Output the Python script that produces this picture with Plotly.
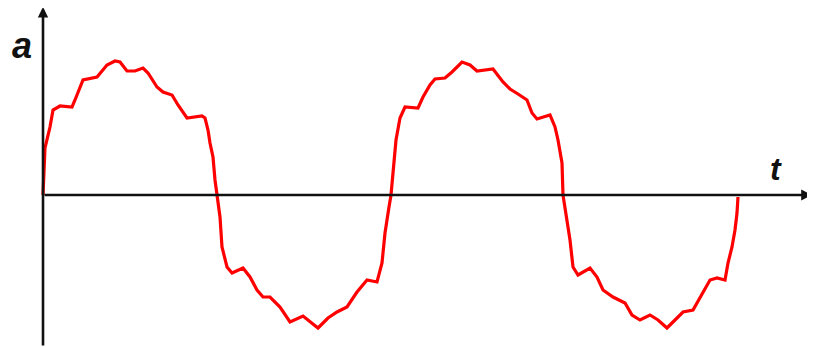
import plotly.graph_objects as go

# Curve values (t in px-like units from origin, a in px-like units above axis)
t_vals = [0, 2, 7, 10, 17, 29, 32, 40, 54, 64, 72, 77, 84, 92, 100, 105, 114, 120, 129, 135,
          144, 150, 159, 162, 165, 167, 170, 172, 174, 177, 179, 184, 189, 200, 207, 214, 220,
          227, 237, 247, 260, 275, 285, 294, 304, 314, 324, 334, 339, 342, 346, 348, 350, 353,
          357, 362, 375, 380, 387, 392, 402, 409, 419, 427, 434, 444, 450, 460, 467, 475, 484,
          489, 494, 507, 512, 515, 519, 520, 524, 527, 530, 535, 547, 554, 560, 570, 582, 589,
          597, 607, 615, 624, 630, 640, 650, 660, 667, 674, 682, 685, 689, 692, 694, 695]
a_vals = [0, 47, 68, 85, 89, 88, 95, 115, 118, 130, 134, 133, 124, 124, 127, 122, 108, 103,
          100, 90, 77, 78, 79, 77, 65, 52, 38, 15, 0, -22, -52, -72, -78, -73, -82, -95, -102,
          -102, -112, -127, -121, -133, -123, -117, -112, -97, -85, -87, -68, -38, -12, 0, 22,
          55, 77, 88, 87, 98, 110, 116, 117, 123, 133, 130, 124, 125, 126, 113, 106, 101, 95,
          82, 76, 80, 68, 55, 32, 0, -25, -45, -72, -80, -73, -82, -95, -102, -108, -120, -125,
          -120, -125, -133, -127, -117, -115, -98, -85, -83, -85, -68, -52, -35, -18, -2]

x_axis_end = 769
y_axis_top = 188
y_axis_bottom = -152

fig = go.Figure()
fig.add_trace(go.Scatter(x=t_vals, y=a_vals, mode="lines",
                         line=dict(color="#ff0000", width=3.2), hoverinfo="skip"))

# axes drawn as arrows
fig.add_annotation(x=x_axis_end, y=0, ax=0, ay=0, axref="x", ayref="y", xref="x", yref="y",
                   text="", showarrow=True, arrowhead=2, arrowsize=0.9, arrowwidth=2.4,
                   arrowcolor="#111111", standoff=0, startstandoff=0)
fig.add_annotation(x=0, y=y_axis_top, ax=0, ay=y_axis_bottom, axref="x", ayref="y", xref="x", yref="y",
                   text="", showarrow=True, arrowhead=2, arrowsize=0.8, arrowwidth=2.6,
                   arrowcolor="#111111", standoff=0, startstandoff=0)

fig.add_annotation(x=-21, y=150, xref="x", yref="y", text="<b><i>a</i></b>", showarrow=False,
                   font=dict(family="Liberation Sans, Arial", size=36, color="#111111"))
fig.add_annotation(x=733, y=26, xref="x", yref="y", text="<b><i>t</i></b>", showarrow=False,
                   font=dict(family="Liberation Sans, Arial", size=32, color="#111111"))

# page body adds an 8px offset, so ranges are shifted to compensate
fig.update_xaxes(range=[-35, 780], visible=False, showgrid=False, zeroline=False)
fig.update_yaxes(range=[-160, 187], visible=False, showgrid=False, zeroline=False)
fig.update_layout(width=815, height=347, margin=dict(l=0, r=0, t=0, b=0),
                  paper_bgcolor="white", plot_bgcolor="white", showlegend=False)

fig.write_html("out.html")
